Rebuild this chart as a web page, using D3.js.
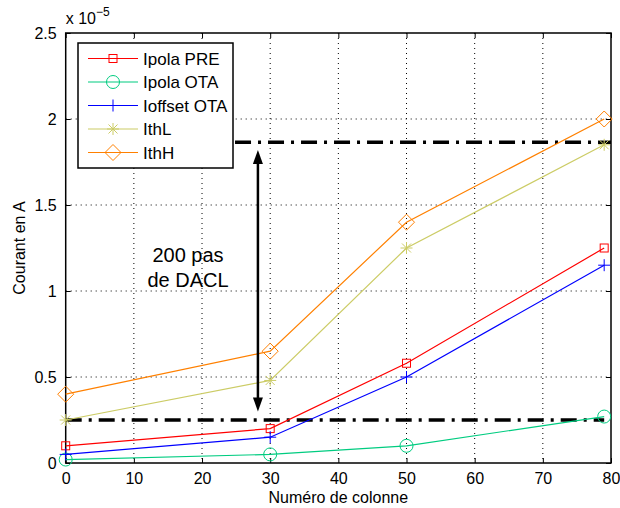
<!DOCTYPE html>
<html><head><meta charset="utf-8">
<script src="https://cdn.jsdelivr.net/npm/d3@7"></script>
<style>body{margin:0;background:#fff}svg text{font-family:"Liberation Sans",Arial,sans-serif}</style>
</head><body><svg id="c" width="620" height="508"></svg>
<script>
const xCols = [0, 30, 50, 79];
const ipolaPRE = [0.1, 0.2, 0.58, 1.25];
const ipolaOTA = [0.02, 0.05, 0.1, 0.27];
const ioffsetOTA = [0.05, 0.15, 0.5, 1.15];
const ithL = [0.25, 0.48, 1.25, 1.85];
const ithH = [0.4, 0.65, 1.4, 2.0];
const xTicks = [0,10,20,30,40,50,60,70,80];
const yTicks = [0,0.5,1,1.5,2,2.5];
const refLow = {y:0.25, x0:0, x1:79};
const refHigh = {y:1.865, x0:20, x1:80};
const arrow = {x:28.2, y0:0.3, y1:1.82};

const series = [
 {name:"Ipola PRE", v:ipolaPRE, color:"#ff0000", m:"square"},
 {name:"Ipola OTA", v:ipolaOTA, color:"#00cc80", m:"circle"},
 {name:"Ioffset OTA", v:ioffsetOTA, color:"#0000ff", m:"plus"},
 {name:"IthL", v:ithL, color:"#cccc66", m:"star"},
 {name:"IthH", v:ithH, color:"#ff8000", m:"diamond"}
];

const svg = d3.select("#c");
const L=65.7, R=611, T=33, B=463;
const x = d3.scaleLinear().domain([0,80]).range([L,R]);
const y = d3.scaleLinear().domain([0,2.5]).range([B,T]);

// grid
const g = svg.append("g");
xTicks.slice(1,-1).forEach(t=>g.append("line").attr("x1",x(t)).attr("x2",x(t)).attr("y1",T).attr("y2",B)
  .attr("stroke","#000").attr("stroke-width",1).attr("stroke-dasharray","1,4"));
yTicks.slice(1,-1).forEach(t=>g.append("line").attr("x1",L).attr("x2",R).attr("y1",y(t)).attr("y2",y(t))
  .attr("stroke","#000").attr("stroke-width",1).attr("stroke-dasharray","1,4"));

// axes
const ax = svg.append("g").attr("transform",`translate(0,${B})`)
  .call(d3.axisBottom(x).tickValues(xTicks).tickSize(-5).tickPadding(10).tickFormat(d3.format("d")));
const ay = svg.append("g").attr("transform",`translate(${L},0)`)
  .call(d3.axisLeft(y).tickValues(yTicks).tickSize(-5).tickPadding(9).tickFormat(d3.format("~g")));
const axt = svg.append("g").attr("transform",`translate(0,${T})`)
  .call(d3.axisTop(x).tickValues(xTicks).tickSize(-5).tickFormat(""));
const ayr = svg.append("g").attr("transform",`translate(${R},0)`)
  .call(d3.axisRight(y).tickValues(yTicks).tickSize(-5).tickFormat(""));
[ax,ay,axt,ayr].forEach(a=>{a.select(".domain").remove();a.selectAll("line").attr("stroke","#000");
  a.attr("font-family",null).attr("font-size",null);
  a.selectAll("text").attr("font-size",16).attr("fill","#000");});
svg.append("rect").attr("x",L).attr("y",T).attr("width",R-L).attr("height",B-T).attr("fill","none").attr("stroke","#000").attr("stroke-width",1.5);

svg.append("text").attr("x",L).attr("y",24).attr("font-size",16).text("x 10").append("tspan").attr("dy",-8).attr("font-size",12).text("−5");

svg.append("text").attr("x",(L+R)/2).attr("y",503).attr("text-anchor","middle").attr("font-size",16).text("Numéro de colonne");
svg.append("text").attr("transform",`translate(25,${(T+B)/2}) rotate(-90)`).attr("text-anchor","middle").attr("font-size",16).text("Courant en A");

// reference dash-dot lines
[refLow, refHigh].forEach(r=>svg.append("line").attr("x1",x(r.x0)).attr("x2",x(r.x1)).attr("y1",y(r.y)).attr("y2",y(r.y))
  .attr("stroke","#000").attr("stroke-width",3.5).attr("stroke-dasharray","16,7,3,7"));

// series
function marker(sel, m, c){
  const s=4;
  if(m==="square") sel.append("rect").attr("x",-s).attr("y",-s).attr("width",2*s).attr("height",2*s).attr("fill","none").attr("stroke",c);
  if(m==="circle") sel.append("circle").attr("r",6.5).attr("fill","none").attr("stroke",c);
  if(m==="plus") sel.append("path").attr("d","M-6,0H6M0,-6V6").attr("stroke",c);
  if(m==="star") sel.append("path").attr("d","M-6,0H6M0,-6V6M-4.5,-4.5L4.5,4.5M-4.5,4.5L4.5,-4.5").attr("stroke",c);
  if(m==="diamond") sel.append("path").attr("d","M0,-8L8,0L0,8L-8,0Z").attr("fill","none").attr("stroke",c);
}
const line = d3.line().x((d,i)=>x(xCols[i])).y(d=>y(d));
series.forEach(s=>{
  svg.append("path").attr("d",line(s.v)).attr("fill","none").attr("stroke",s.color).attr("stroke-width",1.2);
  s.v.forEach((v,i)=>marker(svg.append("g").attr("transform",`translate(${x(xCols[i])},${y(v)})`),s.m,s.color));
});

// arrow
const axp = x(arrow.x);
svg.append("line").attr("x1",axp).attr("x2",axp).attr("y1",y(arrow.y1)+8).attr("y2",y(arrow.y0)-8).attr("stroke","#000").attr("stroke-width",2.5);
svg.append("path").attr("d",`M${axp},${y(arrow.y1)}l-5,14l10,0z`).attr("fill","#000");
svg.append("path").attr("d",`M${axp},${y(arrow.y0)}l-5,-14l10,0z`).attr("fill","#000");
svg.append("text").attr("x",188).attr("y",262).attr("text-anchor","middle").attr("font-size",20).text("200 pas");
svg.append("text").attr("x",188).attr("y",287).attr("text-anchor","middle").attr("font-size",20).text("de DACL");

// legend
const lg = svg.append("g");
lg.append("rect").attr("x",78).attr("y",43).attr("width",155).attr("height",125).attr("fill","#fff").attr("stroke","#000").attr("stroke-width",1.5);
series.forEach((s,i)=>{
  const yy = 58.5 + i*23.5;
  lg.append("line").attr("x1",88).attr("x2",138).attr("y1",yy).attr("y2",yy).attr("stroke",s.color).attr("stroke-width",1.2);
  marker(lg.append("g").attr("transform",`translate(113,${yy})`),s.m,s.color);
  lg.append("text").attr("x",143).attr("y",yy+6).attr("font-size",17).text(s.name);
});
</script></body></html>
